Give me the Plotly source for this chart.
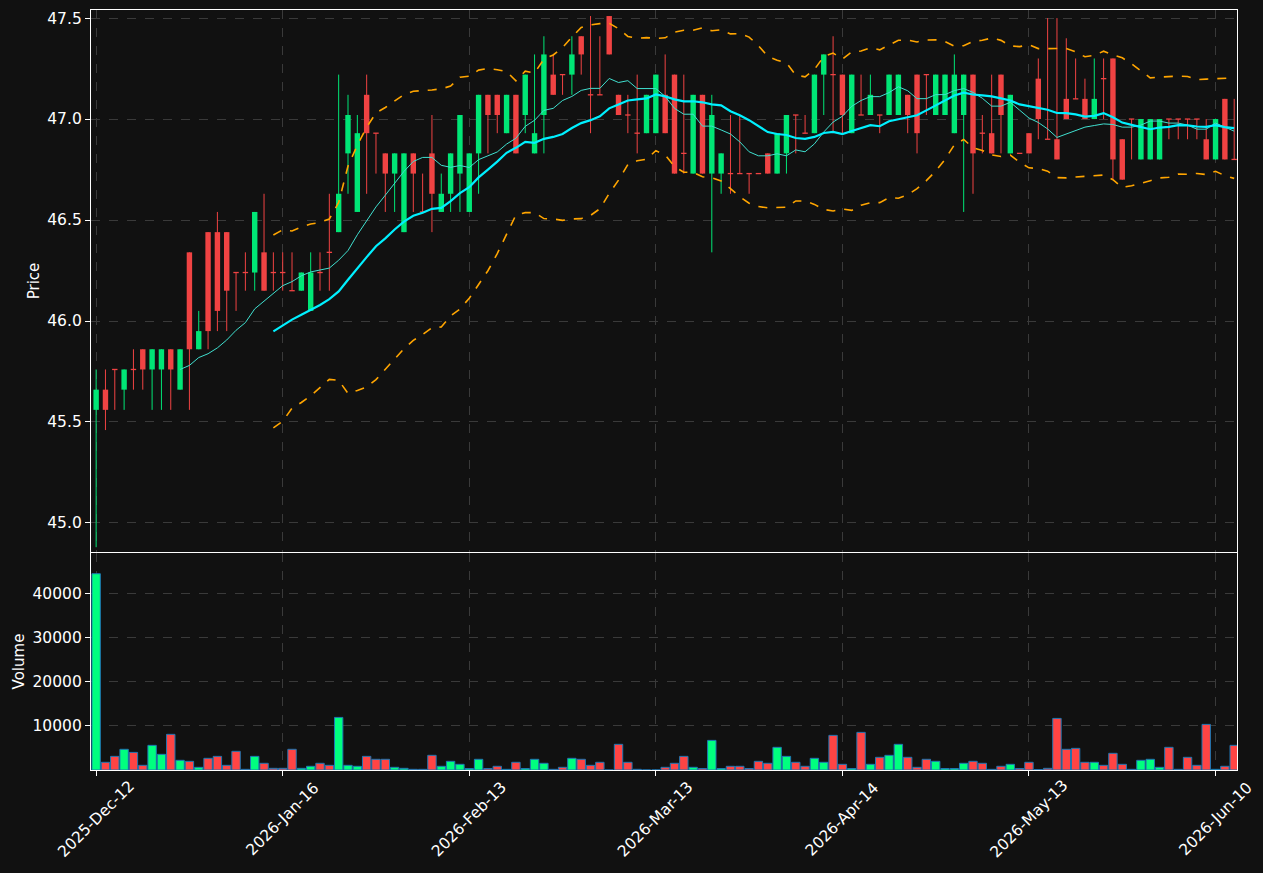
import pandas as pd
import plotly.graph_objects as go

# ---------------- data ----------------
opens = [45.56, 45.66, 45.76, 45.66, 45.76, 45.86, 45.76, 45.76, 45.86, 45.66,
         46.34, 45.86, 46.44, 46.44, 46.44, 46.24, 46.24, 46.24, 46.34, 46.24,
         46.24, 46.15, 46.15, 46.05, 46.24, 46.34, 46.44, 46.83, 46.54, 47.12,
         46.93, 46.83, 46.73, 46.44, 46.83, 46.54, 46.83, 46.54, 46.63, 46.73,
         46.54, 46.83, 47.12, 47.12, 46.93, 47.12, 47.02, 46.83, 47.02, 47.22,
         47.22, 47.22, 47.41, 47.12, 47.12, 47.51, 47.12, 47.02, 46.93, 46.93,
         46.93, 47.12, 47.22, 46.83, 46.73, 47.12, 46.73, 46.73, 46.73, 46.73,
         46.73, 46.73, 46.83, 46.73, 46.83, 47.02, 46.93, 46.93, 47.22, 47.22,
         47.22, 46.93, 47.02, 47.02, 47.02, 47.02, 47.02, 47.12, 47.22, 47.22,
         47.02, 47.02, 46.93, 47.02, 47.22, 46.93, 46.93, 47.22, 46.83, 46.83,
         46.93, 47.20, 46.90, 46.90, 47.10, 47.10, 47.10, 47.00, 47.20, 47.30,
         46.90, 47.00, 46.80, 46.80, 46.80, 47.00, 47.00, 47.00, 47.00, 46.90,
         46.80, 47.10, 46.80]
highs = [45.76, 45.76, 45.76, 45.76, 45.86, 45.86, 45.86, 45.86, 45.86, 45.86,
         46.34, 46.05, 46.44, 46.54, 46.44, 46.24, 46.34, 46.54, 46.63, 46.34,
         46.34, 46.34, 46.24, 46.34, 46.34, 46.63, 47.22, 47.12, 47.02, 47.22,
         46.93, 46.83, 46.83, 46.83, 46.83, 46.73, 47.02, 46.73, 46.83, 47.02,
         46.83, 47.12, 47.12, 47.12, 47.12, 47.12, 47.22, 47.32, 47.41, 47.32,
         47.22, 47.41, 47.41, 47.51, 47.41, 47.51, 47.12, 47.12, 47.22, 47.12,
         47.22, 47.32, 47.22, 47.22, 47.12, 47.12, 47.12, 46.83, 47.02, 47.02,
         46.73, 46.73, 46.83, 46.93, 47.02, 47.02, 47.02, 47.22, 47.32, 47.41,
         47.22, 47.22, 47.22, 47.22, 47.02, 47.22, 47.22, 47.12, 47.22, 47.22,
         47.22, 47.22, 47.32, 47.22, 47.22, 47.02, 47.22, 47.22, 47.12, 46.83,
         46.93, 47.30, 47.50, 47.50, 47.40, 47.30, 47.20, 47.30, 47.30, 47.30,
         46.90, 47.00, 47.00, 47.00, 47.00, 47.00, 47.00, 47.00, 47.00, 47.00,
         47.00, 47.10, 47.10]
lows = [44.88, 45.46, 45.56, 45.56, 45.66, 45.66, 45.56, 45.56, 45.56, 45.66,
        45.56, 45.86, 45.86, 45.95, 45.95, 46.05, 46.15, 46.15, 46.15, 46.15,
        46.15, 46.15, 46.15, 46.05, 46.15, 46.15, 46.44, 46.63, 46.54, 46.63,
        46.73, 46.54, 46.54, 46.44, 46.54, 46.54, 46.44, 46.54, 46.54, 46.54,
        46.54, 46.63, 46.83, 46.93, 46.93, 46.83, 46.93, 46.83, 46.83, 47.12,
        47.12, 47.12, 47.22, 46.93, 47.12, 47.32, 47.02, 46.93, 46.83, 46.93,
        46.93, 46.93, 46.73, 46.73, 46.73, 46.73, 46.34, 46.63, 46.63, 46.73,
        46.63, 46.73, 46.73, 46.73, 46.73, 46.83, 46.93, 46.93, 47.02, 46.93,
        46.93, 46.93, 47.02, 47.02, 46.93, 47.02, 47.02, 46.93, 46.83, 47.02,
        47.02, 47.02, 46.93, 46.54, 46.63, 46.83, 46.83, 46.83, 46.83, 46.83,
        46.83, 46.90, 46.90, 46.80, 47.00, 47.10, 47.00, 47.00, 47.00, 46.70,
        46.70, 46.80, 46.80, 46.80, 46.80, 46.90, 46.90, 46.90, 46.90, 46.80,
        46.80, 46.80, 46.80]
closes = [45.66, 45.56, 45.76, 45.76, 45.76, 45.76, 45.86, 45.86, 45.76, 45.86,
          45.86, 45.95, 45.95, 46.05, 46.15, 46.24, 46.24, 46.54, 46.15, 46.24,
          46.24, 46.15, 46.24, 46.24, 46.24, 46.34, 46.63, 47.02, 46.93, 46.93,
          46.93, 46.73, 46.83, 46.83, 46.73, 46.54, 46.63, 46.63, 46.83, 47.02,
          46.83, 47.12, 47.02, 47.02, 47.12, 46.83, 47.22, 46.93, 47.32, 47.12,
          47.22, 47.32, 47.32, 47.12, 47.12, 47.32, 47.02, 47.02, 46.93, 47.12,
          47.22, 46.93, 46.73, 46.83, 47.12, 46.73, 47.02, 46.83, 46.73, 46.73,
          46.73, 46.73, 46.73, 46.93, 47.02, 47.02, 46.93, 47.22, 47.32, 47.22,
          47.02, 47.22, 47.02, 47.12, 47.02, 47.22, 47.22, 47.02, 46.93, 47.22,
          47.22, 47.22, 47.22, 47.22, 46.83, 46.93, 46.83, 47.02, 47.12, 46.83,
          46.83, 47.00, 46.90, 46.80, 47.00, 47.10, 47.00, 47.10, 47.20, 46.80,
          46.70, 47.00, 47.00, 47.00, 47.00, 47.00, 47.00, 47.00, 47.00, 46.80,
          47.00, 46.80, 46.80]
volumes = [44600, 1750, 3100, 4700, 4000, 1060, 5600, 3560, 8100, 2200,
           1970, 610, 2650, 3100, 1060, 4240, 150, 3100, 1520, 380,
           380, 4700, 380, 840, 1520, 1060, 11950, 1060, 840, 3100,
           2430, 2430, 610, 380, 150, 150, 3330, 840, 1970, 1290,
           330, 2430, 330, 840, 150, 1750, 330, 2430, 1520, 150,
           610, 2650, 2430, 1060, 1750, 0, 5830, 1750, 150, 0,
           0, 610, 1520, 3100, 610, 330, 6730, 330, 840, 840,
           330, 1970, 1520, 5150, 3100, 1750, 840, 2650, 1750, 7870,
           1290, 330, 8550, 1290, 2880, 3330, 5830, 2880, 610, 2430,
           1970, 330, 330, 1520, 1970, 1520, 150, 840, 1290, 330,
           1750, 100, 380, 11720, 4700, 4920, 1750, 1750, 1060, 3790,
           1290, 150, 2200, 2430, 610, 5150, 150, 2880, 1060, 10360,
           150, 840, 5600]
tick_positions = [0, 20, 40, 60, 80, 100, 120]
tick_labels = ["2025-Dec-12", "2026-Jan-16", "2026-Feb-13", "2026-Mar-13",
               "2026-Apr-14", "2026-May-13", "2026-Jun-10"]
price_ticks = [45.0, 45.5, 46.0, 46.5, 47.0, 47.5]
volume_ticks = [10000, 20000, 30000, 40000]

# ---------------- styling ----------------
BG = "#111111"
UP = "#00e676"
DOWN = "#f04343"
UP_VOL = "#00ff7f"
DOWN_VOL = "#ff4444"
GRID = "#3a3a3a"
FONT = "DejaVu Sans"
TICK_SIZE = 15.5
BODY_W = 0.58

n = len(closes)
idx = list(range(n))
is_up = [c > o for o, c in zip(opens, closes)]
is_doji = [c == o for o, c in zip(opens, closes)]

close_s = pd.Series(closes, dtype=float)
ma10 = close_s.rolling(10).mean()
ma20 = close_s.rolling(20).mean()
sd20 = close_s.rolling(20).std(ddof=0)
upper = ma20 + 2 * sd20
lower = ma20 - 2 * sd20

fig = go.Figure()

# volume bars
fig.add_trace(go.Bar(
    x=idx, y=volumes, width=0.9,
    marker=dict(color=[UP_VOL if u else DOWN_VOL for u in is_up],
                line=dict(color="#1f77b4", width=1)),
    xaxis="x2", yaxis="y2", hoverinfo="skip"))

# wicks
for flag, col in ((True, UP), (False, DOWN)):
    wx, wy = [], []
    for i in idx:
        if is_up[i] == flag:
            wx += [i, i, None]
            wy += [lows[i], highs[i], None]
    fig.add_trace(go.Scatter(x=wx, y=wy, mode="lines",
                             line=dict(color=col, width=1), hoverinfo="skip"))

# candle bodies
body_x = [i for i in idx if not is_doji[i]]
fig.add_trace(go.Bar(
    x=body_x,
    base=[min(opens[i], closes[i]) for i in body_x],
    y=[abs(closes[i] - opens[i]) for i in body_x],
    width=BODY_W,
    marker=dict(color=[UP if is_up[i] else DOWN for i in body_x], line=dict(width=0)),
    hoverinfo="skip"))

# doji ticks
dx, dy = [], []
for i in idx:
    if is_doji[i]:
        dx += [i - BODY_W / 2, i + BODY_W / 2, None]
        dy += [opens[i], opens[i], None]
fig.add_trace(go.Scatter(x=dx, y=dy, mode="lines",
                         line=dict(color=DOWN, width=1.3), hoverinfo="skip"))

# indicators
fig.add_trace(go.Scatter(x=idx, y=upper, mode="lines",
                         line=dict(color="#ffa500", width=1.6, dash="dash")))
fig.add_trace(go.Scatter(x=idx, y=lower, mode="lines",
                         line=dict(color="#ffa500", width=1.6, dash="dash")))
fig.add_trace(go.Scatter(x=idx, y=ma10, mode="lines",
                         line=dict(color="#40e0d0", width=1)))
fig.add_trace(go.Scatter(x=idx, y=ma20, mode="lines",
                         line=dict(color="#00f0ff", width=2.2)))

axis_common = dict(showline=True, mirror=True, linecolor="white", linewidth=1.3,
                   showgrid=True, gridcolor=GRID, griddash="dash", gridwidth=1,
                   zeroline=False, ticks="outside", tickcolor="white", ticklen=5,
                   tickfont=dict(family=FONT, size=TICK_SIZE, color="white"))

# centred, rotated date labels under each x tick
annotations = [dict(x=p, y=-0.0645, xref="x2", yref="paper", text=t,
                    showarrow=False, textangle=-45, xanchor="center", yanchor="middle",
                    font=dict(family=FONT, size=TICK_SIZE, color="white"))
               for p, t in zip(tick_positions, tick_labels)]

xr = [-0.55, 122.3]
fig.update_layout(
    width=1263, height=873,
    paper_bgcolor=BG, plot_bgcolor=BG,
    margin=dict(l=91, r=26, t=10, b=103),
    showlegend=False, barmode="overlay",
    font=dict(family=FONT, color="white", size=15),
    annotations=annotations,
    xaxis=dict(axis_common, domain=[0, 1], anchor="y", range=xr,
               tickvals=tick_positions, ticktext=tick_labels,
               showticklabels=False, ticks=""),
    yaxis=dict(axis_common, domain=[0.2868, 1], anchor="x",
               range=[44.856, 47.54], tickvals=price_ticks, tickformat=".1f",
               title=dict(text="Price", font=dict(family=FONT, size=15, color="white"),
                          standoff=3)),
    xaxis2=dict(axis_common, domain=[0, 1], anchor="y2", range=xr, matches="x",
                tickvals=tick_positions, showticklabels=False),
    yaxis2=dict(axis_common, domain=[0, 0.2855], anchor="x2",
                range=[0, 49300], tickvals=volume_ticks, tickformat="d",
                title=dict(text="Volume", font=dict(family=FONT, size=15, color="white"),
                           standoff=4)),
)

fig.write_html("out.html")
